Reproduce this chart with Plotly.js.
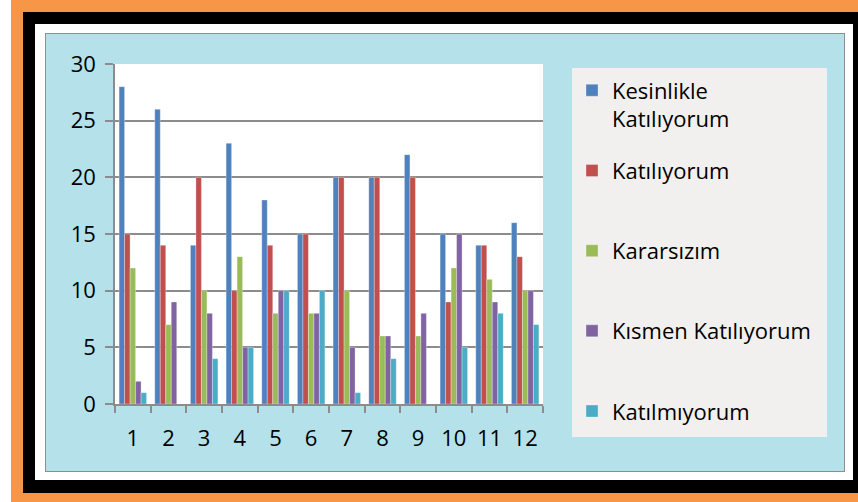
<!DOCTYPE html>
<html>
<head>
<meta charset="utf-8">
<script src="https://cdn.plot.ly/plotly-3.0.1.min.js"></script>
<style>
  html, body { margin: 0; padding: 0; background: #fff; width: 858px; height: 502px; overflow: hidden; }
  .frame { position: absolute; }
  #orange { left: 11px; top: 0; width: 847px; height: 502px; background: #f79646; }
  #black { left: 23px; top: 12px; width: 835px; height: 481px; background: #000; }
  #white { left: 35px; top: 24px; width: 818px; height: 456px; background: #fff; }
  #chart { left: 45px; top: 33px; width: 798px; height: 437px; border: 1px solid #8e8e8e; }
</style>
</head>
<body>
<div class="frame" id="orange"></div>
<div class="frame" id="black"></div>
<div class="frame" id="white"></div>
<div class="frame" id="chart"></div>
<script>
// question numbers
const questions = ['1', '2', '3', '4', '5', '6', '7', '8', '9', '10', '11', '12'];

// answers per question
const kesinlikle = [28, 26, 14, 23, 18, 15, 20, 20, 22, 15, 14, 16];
const katiliyorum = [15, 14, 20, 10, 14, 15, 20, 20, 20, 9, 14, 13];
const kararsizim = [12, 7, 10, 13, 8, 8, 10, 6, 6, 12, 11, 10];
const kismen = [2, 9, 8, 5, 10, 8, 5, 6, 8, 15, 9, 10];
const katilmiyorum = [1, 0, 4, 5, 10, 10, 1, 4, 0, 5, 8, 7];

// trailing blank line keeps every legend entry two lines tall
const seriesNames = ['Kesinlikle<br>Katılıyorum', 'Katılıyorum<br> ', 'Kararsızım<br> ', 'Kısmen Katılıyorum<br> ', 'Katılmıyorum<br> '];
const seriesValues = [kesinlikle, katiliyorum, kararsizim, kismen, katilmiyorum];
const colors = ['#4f81bd', '#c0504d', '#9bbb59', '#8064a2', '#4bacc6'];

const data = seriesValues.map((vals, i) => ({
    x: questions,
    y: vals,
    name: seriesNames[i],
    legendgroup: 'g' + i,
    type: 'bar',
    marker: {
        color: colors[i],
        line: { color: 'rgba(255,255,255,0.5)', width: 0.6 }
    },
    hoverinfo: 'x+y'
}));

const font = '"Open Sans", "Liberation Sans", sans-serif';

const layout = {
    width: 798,
    height: 437,
    margin: { l: 69, r: 301, t: 30, b: 67 },
    paper_bgcolor: '#b5e1ea',
    plot_bgcolor: '#ffffff',
    barmode: 'group',
    bargap: 0.23,
    bargroupgap: 0,
    font: { family: font, color: '#000' },
    xaxis: {
        type: 'category',
        showline: true,
        linecolor: '#8c8c8c',
        linewidth: 1.5,
        ticks: 'outside',
        tickson: 'boundaries',
        ticklen: 7,
        tickcolor: '#8c8c8c',
        tickwidth: 1.5,
        ticklabelstandoff: 14,
        tickfont: { size: 22, family: font, color: '#000' },
        showgrid: false
    },
    yaxis: {
        range: [0, 30],
        dtick: 5,
        showline: true,
        linecolor: '#8c8c8c',
        linewidth: 1.5,
        ticks: 'outside',
        ticklen: 8,
        tickcolor: '#8c8c8c',
        tickwidth: 1.5,
        ticklabelstandoff: 5,
        tickfont: { size: 22, family: font, color: '#000' },
        showgrid: true,
        gridcolor: '#8c8c8c',
        gridwidth: 1.5,
        zeroline: false
    },
    legend: {
        x: 1.0678,
        xanchor: 'left',
        y: 0.984,
        yanchor: 'top',
        maxheight: 600,
        bgcolor: 'rgba(0,0,0,0)',
        font: { size: 22, family: font, color: '#000' },
        traceorder: 'grouped',
        tracegroupgap: 20,
        valign: 'top'
    },
    shapes: [{
        type: 'rect',
        xref: 'paper', yref: 'paper',
        x0: 1.0678, x1: 1.6636,
        y0: -0.097, y1: 0.988,
        fillcolor: '#f1f0ee',
        line: { width: 0 },
        layer: 'below'
    }]
};

Plotly.newPlot('chart', data, layout, { displayModeBar: false });
</script>
</body>
</html>
